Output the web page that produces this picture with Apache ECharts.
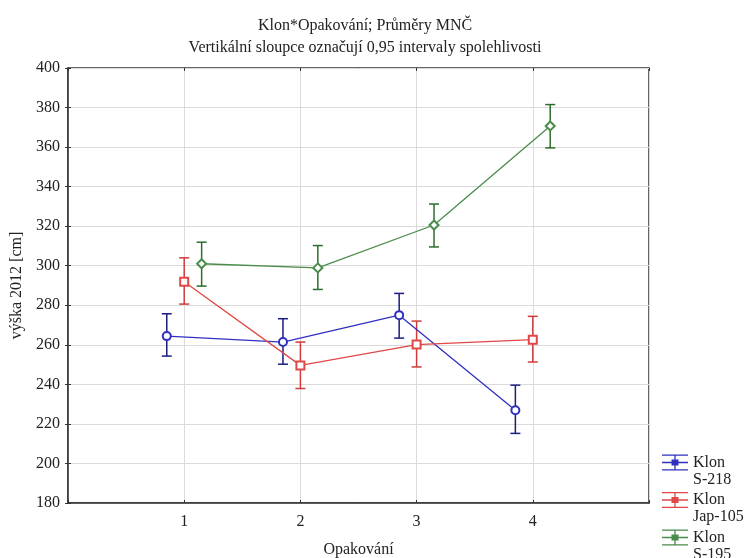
<!DOCTYPE html>
<html>
<head>
<meta charset="utf-8">
<script src="https://cdn.jsdelivr.net/npm/echarts@6/dist/echarts.min.js"></script>
<style>
	html,body{margin:0;padding:0;background:#fff;}
	#chart{width:745px;height:558px;}
</style>
</head>
<body>
<div id="chart"></div>
<script>
	// opakování (kategorie na ose x)
	var categories = [1, 2, 3, 4];
	var xTickLabels = ['1', '2', '3', '4'];

	// Klon S-218
	var s218Mean = [264.4, 261.4, 275.0, 226.9];
	var s218Low  = [254.3, 250.2, 263.4, 215.2];
	var s218High = [275.7, 273.2, 286.0, 239.6];
	// Klon Jap-105
	var jap105Mean = [291.9, 249.6, 260.1, 262.6];
	var jap105Low  = [280.6, 237.9, 248.8, 251.3];
	var jap105High = [304.0, 261.4, 272.0, 274.4];
	// Klon S-195
	var s195Mean = [301.0, 298.9, 320.6, 370.7];
	var s195Low  = [289.7, 288.0, 309.5, 359.6];
	var s195High = [311.9, 310.2, 331.2, 381.5];

	var FONT = '"Liberation Serif", "DejaVu Serif", serif';

	var klony = [
		{name:'Klon S-218', mean:s218Mean, low:s218Low, high:s218High, shift:-0.15,
			line:'#3030c0', bar:'#1c1c80', symbol:'emptyCircle', size:8},
		{name:'Klon Jap-105', mean:jap105Mean, low:jap105Low, high:jap105High, shift:0,
			line:'#e04848', bar:'#d03c3c', symbol:'emptyRect', size:8},
		{name:'Klon S-195', mean:s195Mean, low:s195Low, high:s195High, shift:0.15,
			line:'#4a8c4a', bar:'#2c6c2c', symbol:'emptyDiamond', size:9}
	];

	// ikona legendy: chybova usecka s koncovkami
	var legendIcon = 'path://M0 0H26V1.3H0Z M0 14.7H26V16H0Z M12.35 0H13.65V16H12.35Z M0 7.35H26V8.65H0Z' +
		' M9.5 5H16.5V11H9.5Z';

	function errorBarItem(color){
		return function(params, api){
			var x = api.value(0);
			var lo = api.coord([x, api.value(1)]);
			var hi = api.coord([x, api.value(2)]);
			var w = 5;
			var style = {stroke:color, lineWidth:1.5, fill:null};
			return {
				type:'group',
				children:[
					{type:'line', shape:{x1:lo[0], y1:lo[1], x2:hi[0], y2:hi[1]}, style:style},
					{type:'line', shape:{x1:lo[0]-w, y1:lo[1], x2:lo[0]+w, y2:lo[1]}, style:style},
					{type:'line', shape:{x1:hi[0]-w, y1:hi[1], x2:hi[0]+w, y2:hi[1]}, style:style}
				]
			};
		};
	}

	var series = [];
	klony.forEach(function(k){
		var bars = [], pts = [];
		for(var i=0;i<categories.length;i++){
			var x = categories[i] + k.shift;
			bars.push([x, k.low[i], k.high[i]]);
			pts.push([x, k.mean[i]]);
		}
		series.push({
			name:k.name,
			type:'custom',
			renderItem:errorBarItem(k.bar),
			data:bars,
			encode:{x:0, y:[1,2]},
			z:2,
			silent:true
		});
		series.push({
			name:k.name,
			type:'line',
			data:pts,
			symbol:k.symbol,
			symbolSize:k.size,
			color:k.line,
			lineStyle:{color:k.line, width:1.3},
			itemStyle:{color:k.line, borderWidth:1.5},
			z:3,
			animation:false
		});
	});

	var chart = echarts.init(document.getElementById('chart'));
	chart.setOption({
		animation:false,
		backgroundColor:'#fff',
		textStyle:{fontFamily:FONT},
		title:[{
			text:'Klon*Opakování; Průměry MNČ',
			left:360, top:13, textAlign:'center',
			textStyle:{fontFamily:FONT, fontSize:16, fontWeight:'normal', color:'#222'}
		},{
			text:'Vertikální sloupce označují 0,95 intervaly spolehlivosti',
			left:360, top:35, textAlign:'center',
			textStyle:{fontFamily:FONT, fontSize:16, fontWeight:'normal', color:'#222'}
		}],
		legend:{
			data:klony.map(function(k){ return {name:k.name, icon:legendIcon, itemStyle:{color:k.line, borderWidth:0}}; }),
			orient:'vertical',
			left:662, top:437, height:300,
			padding:0,
			itemWidth:26, itemHeight:16,
			itemGap:-13.5,
			// prazdny prvni radek, aby "Klon" stal vedle ikony
			formatter:function(name){ return ' \n' + name.replace(' ', '\n'); },
			textStyle:{fontFamily:FONT, fontSize:16, color:'#222', lineHeight:17}
		},
		grid:{
			left:68, top:68, right:96, bottom:55,
			outerBoundsMode:'none',
			show:true, borderColor:'#333', borderWidth:1.5
		},
		xAxis:[{
			type:'value', min:0, max:5, interval:1,
			name:'Opakování', nameLocation:'middle', nameGap:39,
			nameTextStyle:{fontFamily:FONT, fontSize:16, color:'#222'},
			axisLine:{lineStyle:{color:'#333', width:1.5}},
			axisTick:{inside:true, length:3, lineStyle:{color:'#333'}},
			axisLabel:{fontFamily:FONT, fontSize:16, color:'#222', margin:11,
				formatter:function(v){ var i = categories.indexOf(v); return i < 0 ? '' : xTickLabels[i]; }},
			splitLine:{show:true, lineStyle:{color:'#dadada', width:1}}
		},{
			type:'value', position:'top', min:0, max:5, interval:1,
			axisLine:{show:false},
			axisTick:{inside:true, length:3, lineStyle:{color:'#333'}},
			axisLabel:{show:false}, splitLine:{show:false}
		}],
		yAxis:[{
			type:'value', min:180, max:400, interval:20,
			name:'výška 2012 [cm]', nameLocation:'middle', nameGap:36,
			nameTextStyle:{fontFamily:FONT, fontSize:16, color:'#222'},
			axisLine:{show:true, lineStyle:{color:'#333', width:1.5}},
			axisTick:{show:true, inside:true, length:3, lineStyle:{color:'#333'}},
			axisLabel:{fontFamily:FONT, fontSize:16, color:'#222', margin:8},
			splitLine:{show:true, lineStyle:{color:'#dadada', width:1}}
		},{
			type:'value', position:'right', min:180, max:400, interval:20,
			axisLine:{show:false},
			axisTick:{show:true, inside:true, length:3, lineStyle:{color:'#333'}},
			axisLabel:{show:false}, splitLine:{show:false}
		}],
		series:series
	});
</script>
</body>
</html>
